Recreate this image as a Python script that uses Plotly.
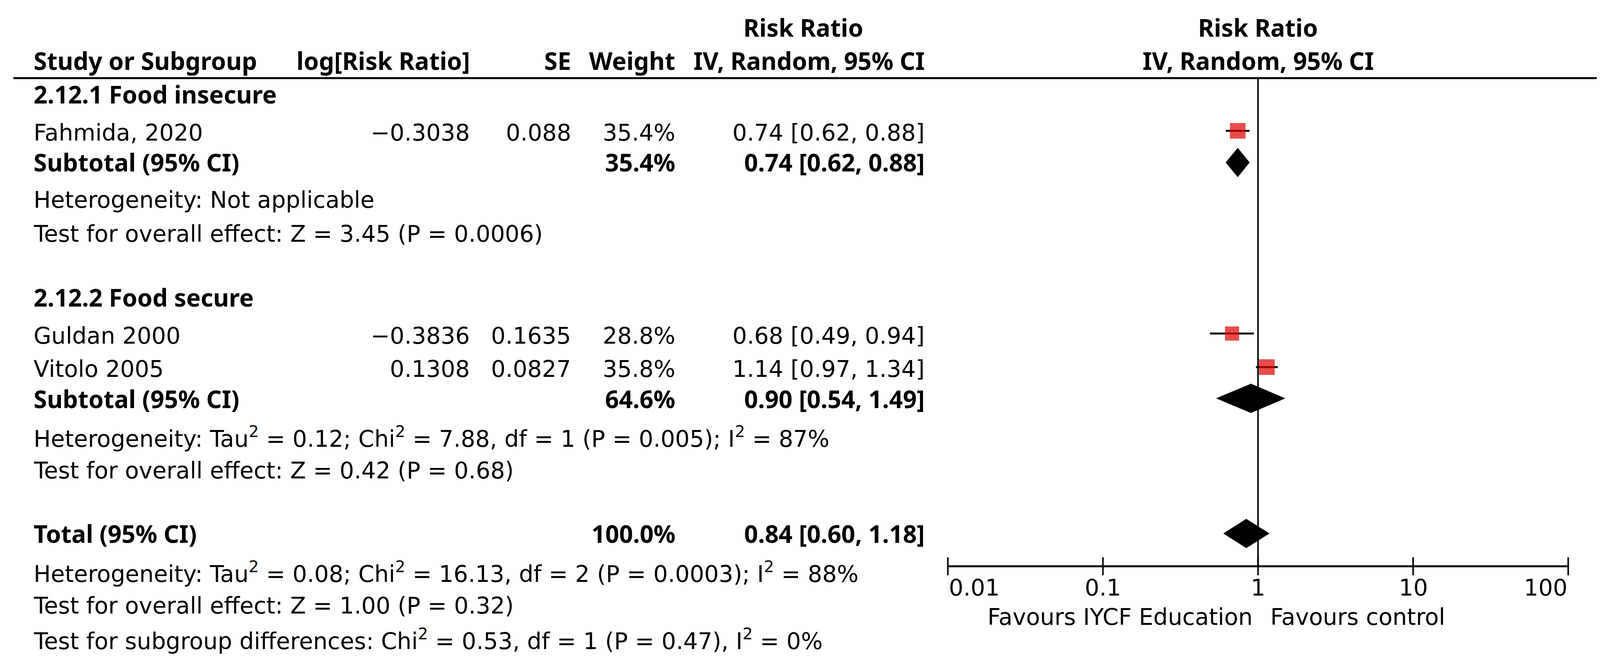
import math
import plotly.graph_objects as go

# ---------------- data ----------------
study_names = ["Fahmida, 2020", "Guldan 2000", "Vitolo 2005"]
log_rr = [-0.3038, -0.3836, 0.1308]
se_vals = [0.088, 0.1635, 0.0827]
weights = [35.4, 28.8, 35.8]
rr = [0.74, 0.68, 1.14]
rr_lo = [0.62, 0.49, 0.97]
rr_hi = [0.88, 0.94, 1.34]

group_labels = ["2.12.1 Food insecure", "2.12.2 Food secure"]
sub_weight = [35.4, 64.6]
sub_rr = [0.74, 0.90]
sub_lo = [0.62, 0.54]
sub_hi = [0.88, 1.49]
sub_het = [
    "Heterogeneity: Not applicable",
    "Heterogeneity: Tau<sup>2</sup> = 0.12; Chi<sup>2</sup> = 7.88, df = 1 (P = 0.005); I<sup>2</sup> = 87%",
]
sub_test = [
    "Test for overall effect: Z = 3.45 (P = 0.0006)",
    "Test for overall effect: Z = 0.42 (P = 0.68)",
]

total_weight = 100.0
total_rr = 0.84
total_lo = 0.60
total_hi = 1.18
total_het = "Heterogeneity: Tau<sup>2</sup> = 0.08; Chi<sup>2</sup> = 16.13, df = 2 (P = 0.0003); I<sup>2</sup> = 88%"
total_test = "Test for overall effect: Z = 1.00 (P = 0.32)"
subgroup_test = "Test for subgroup differences: Chi<sup>2</sup> = 0.53, df = 1 (P = 0.47), I<sup>2</sup> = 0%"

col_headers = ["Study or Subgroup", "log[Risk Ratio]", "SE", "Weight", "IV, Random, 95% CI"]
effect_title = "Risk Ratio"
axis_ticks = [0.01, 0.1, 1, 10, 100]
axis_tick_labels = ["0.01", "0.1", "1", "10", "100"]
favours_left = "Favours IYCF Education"
favours_right = "Favours control"

# ---------------- layout ----------------
# positions below are measured on the 4426x1713 reference; the page viewport is
# 4096x1713 CSS px, so horizontal positions are scaled by KX.
REF_W = 4426
VIEW_W, VIEW_H = 4096, 1713
KX = VIEW_W / REF_W
BODY = 8                      # default page margin
WF = VIEW_W - BODY
HF = VIEW_H - 2 * BODY

REG_FONT = "DejaVu Sans"
BOLD_FONT = "Noto Sans"
FS_REG = 58.5
FS_BOLD = 62

X_LEFT = 91
X_LOGRR = 1302
X_SE = 1582
X_WT = 1871
X_CI = 2560
X_RRHEAD = 2222
AX_L, AX_R = 2622, 4338
PAD = 10

Y_HEAD1, Y_HEAD2, Y_RULE = 70, 155, 200
Y_GROUP = [241, 761]
Y_STUDY = [340, 860, 945]
Y_STUDY_MARK = [335, 854, 940]
Y_SUB = [415, 1021]
Y_SUB_MARK = [416, 1020]
Y_HET = [512, 1119]
Y_TEST = [599, 1205]
Y_TOTAL = 1366
Y_TOT_HET, Y_TOT_TEST, Y_SG_TEST = 1465, 1551, 1637
Y_AXIS = 1450
TICK_HALF = 23
Y_TICKLAB = 1505
Y_FAV = 1580
DIAMOND_HALF = 37
SQ_BASE = 40

RED = "#E00000"


def css_x(v):
    return v * KX - BODY


def paper_x(v):
    return css_x(v) / WF


decade_css = (AX_R - AX_L) * KX / 4.0
pad_dec = PAD * KX / decade_css

fig = go.Figure()


def txt(x, y, s, anchor="left", bold=False, xref="paper", xshift=0):
    if bold:
        s = "<b>" + s + "</b>"
    fig.add_annotation(
        x=(paper_x(x) if xref == "paper" else x), y=y, xref=xref, yref="y",
        text=s, showarrow=False, xanchor=anchor, yanchor="middle",
        xshift=xshift * KX,
        font=dict(family=(BOLD_FONT if bold else REG_FONT),
                  size=(FS_BOLD if bold else FS_REG), color="black"),
    )


def fmt_ci(e, l, h):
    return f"{e:.2f} [{l:.2f}, {h:.2f}]"


def fmt_log(v):
    return f"{v:.4f}".replace("-", "\u2212")


# headers
txt(X_RRHEAD, Y_HEAD1, effect_title, "center", True)
txt(X_LEFT, Y_HEAD2, col_headers[0], "left", True)
txt(X_LOGRR, Y_HEAD2, col_headers[1], "right", True)
txt(X_SE, Y_HEAD2, col_headers[2], "right", True)
txt(X_WT, Y_HEAD2, col_headers[3], "right", True)
txt(X_CI, Y_HEAD2, col_headers[4], "right", True)
txt(0, Y_HEAD1, effect_title, "center", True, xref="x")
txt(0, Y_HEAD2, col_headers[4], "center", True, xref="x")

fig.add_shape(type="line", xref="paper", yref="y", x0=paper_x(37), x1=1.0,
              y0=Y_RULE, y1=Y_RULE, line=dict(color="black", width=5))

for g in range(2):
    txt(X_LEFT, Y_GROUP[g], group_labels[g], "left", True)
for i, name in enumerate(study_names):
    y = Y_STUDY[i]
    txt(X_LEFT, y, name)
    txt(X_LOGRR, y, fmt_log(log_rr[i]), "right")
    txt(X_SE, y, str(se_vals[i]), "right")
    txt(X_WT, y, f"{weights[i]:.1f}%", "right")
    txt(X_CI, y, fmt_ci(rr[i], rr_lo[i], rr_hi[i]), "right")

for g in range(2):
    txt(X_LEFT, Y_SUB[g], "Subtotal (95% CI)", "left", True)
    txt(X_WT, Y_SUB[g], f"{sub_weight[g]:.1f}%", "right", True)
    txt(X_CI, Y_SUB[g], fmt_ci(sub_rr[g], sub_lo[g], sub_hi[g]), "right", True)
    txt(X_LEFT, Y_HET[g], sub_het[g])
    txt(X_LEFT, Y_TEST[g], sub_test[g])

txt(X_LEFT, Y_TOTAL, "Total (95% CI)", "left", True)
txt(X_WT, Y_TOTAL, f"{total_weight:.1f}%", "right", True)
txt(X_CI, Y_TOTAL, fmt_ci(total_rr, total_lo, total_hi), "right", True)
txt(X_LEFT, Y_TOT_HET, total_het)
txt(X_LEFT, Y_TOT_TEST, total_test)
txt(X_LEFT, Y_SG_TEST, subgroup_test)

# ---------------- forest marks ----------------
fig.add_trace(go.Scatter(x=[1, 1], y=[Y_RULE, Y_AXIS], mode="lines",
                         line=dict(color="black", width=4), hoverinfo="skip"))

ci_x, ci_y = [], []
for i in range(len(study_names)):
    ci_x += [rr_lo[i], rr_hi[i], None]
    ci_y += [Y_STUDY_MARK[i], Y_STUDY_MARK[i], None]
fig.add_trace(go.Scatter(x=ci_x, y=ci_y, mode="lines",
                         line=dict(color="black", width=5), hoverinfo="skip"))

sizes = [SQ_BASE * math.sqrt(w / 35.4) for w in weights]
fig.add_trace(go.Scatter(x=rr, y=Y_STUDY_MARK, mode="markers",
                         marker=dict(symbol="square", size=sizes, color=RED,
                                     line=dict(width=0)), hoverinfo="skip"))


def diamond(est, lo, hi, yc):
    fig.add_trace(go.Scatter(
        x=[lo, est, hi, est, lo],
        y=[yc, yc - DIAMOND_HALF, yc, yc + DIAMOND_HALF, yc],
        mode="lines", fill="toself", fillcolor="black",
        line=dict(color="black", width=1), hoverinfo="skip"))


for g in range(2):
    diamond(sub_rr[g], sub_lo[g], sub_hi[g], Y_SUB_MARK[g])
diamond(total_rr, total_lo, total_hi, Y_TOTAL)

fig.add_trace(go.Scatter(x=[axis_ticks[0], axis_ticks[-1]], y=[Y_AXIS, Y_AXIS],
                         mode="lines", line=dict(color="black", width=5),
                         hoverinfo="skip"))
tx, ty = [], []
for t in axis_ticks:
    tx += [t, t, None]
    ty += [Y_AXIS - TICK_HALF, Y_AXIS + TICK_HALF, None]
fig.add_trace(go.Scatter(x=tx, y=ty, mode="lines",
                         line=dict(color="black", width=4), hoverinfo="skip"))

for k, (t, lab) in enumerate(zip(axis_ticks, axis_tick_labels)):
    anc = "left" if k == 0 else ("right" if k == len(axis_ticks) - 1 else "center")
    txt(math.log10(t), Y_TICKLAB, lab, anc, xref="x")

txt(0, Y_FAV, favours_left, "right", xref="x", xshift=-12)
txt(0, Y_FAV, favours_right, "left", xref="x", xshift=32)

fig.update_layout(
    width=WF, height=HF, margin=dict(l=0, r=0, t=0, b=0),
    paper_bgcolor="white", plot_bgcolor="white", showlegend=False,
    xaxis=dict(type="log", range=[-2 - pad_dec, 2 + pad_dec],
               domain=[(css_x(AX_L) - PAD * KX) / WF, (css_x(AX_R) + PAD * KX) / WF],
               visible=False),
    yaxis=dict(range=[HF + BODY, BODY], domain=[0, 1], visible=False),
)

fig.write_html("out.html")
